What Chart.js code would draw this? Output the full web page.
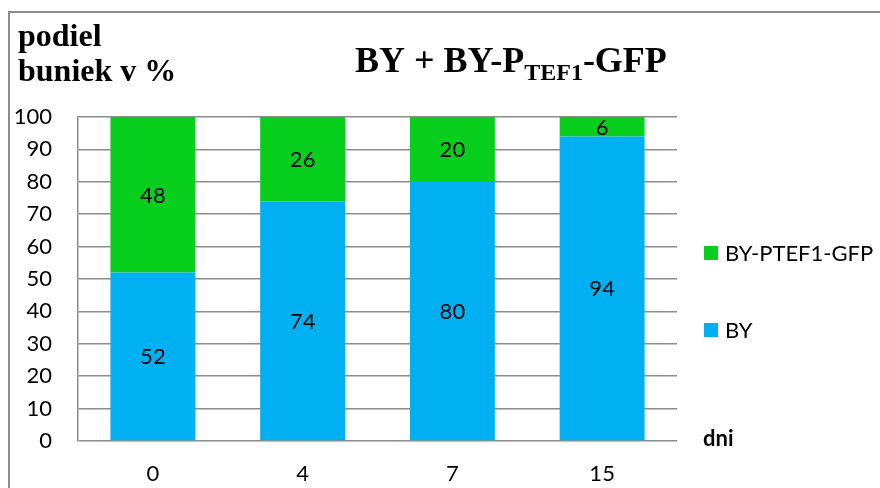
<!DOCTYPE html>
<html>
<head>
<meta charset="utf-8">
<script src="https://cdn.jsdelivr.net/npm/chart.js@4/dist/chart.umd.min.js"></script>
<style>
  html, body { margin: 0; padding: 0; background: #fff; }
  #wrap { width: 880px; height: 488px; position: relative; }
</style>
</head>
<body>
<div id="wrap"><canvas id="c" width="880" height="488"></canvas></div>
<script>
// Days of cultivation
const days = ['0', '4', '7', '15'];
// Share of cells (%) per strain
const byValues = [52, 74, 80, 94];
const gfpValues = [48, 26, 20, 6];
const seriesNames = ['BY', 'BY-PTEF1-GFP'];
const yTicks = [0, 10, 20, 30, 40, 50, 60, 70, 80, 90, 100];

const BLUE = '#00B0F0';
const GREEN = '#08CE1E';
const GRID = '#8C8C8C';
const SANS = 'Lato, "Open Sans", sans-serif';
const SERIF = '"Liberation Serif", "DejaVu Serif", serif';

// Frame around the whole chart
const framePlugin = {
  id: 'frame',
  beforeDraw(chart) {
    const ctx = chart.ctx;
    ctx.save();
    ctx.fillStyle = '#fff';
    ctx.fillRect(0, 0, chart.width, chart.height);
    ctx.strokeStyle = '#8C8C8C';
    ctx.lineWidth = 2;
    ctx.strokeRect(9, 12, chart.width + 20, chart.height + 20);
    ctx.restore();
  }
};

// Value labels centred in each stacked segment
const valueLabels = {
  id: 'valueLabels',
  afterDatasetsDraw(chart) {
    const ctx = chart.ctx;
    ctx.save();
    ctx.font = '22px ' + SANS;
    ctx.fillStyle = '#000';
    ctx.textAlign = 'center';
    ctx.textBaseline = 'middle';
    chart.data.datasets.forEach((ds, i) => {
      const meta = chart.getDatasetMeta(i);
      meta.data.forEach((bar, j) => {
        const p = bar.getProps(['x', 'y', 'base'], true);
        ctx.fillText(String(ds.data[j]), p.x, (p.y + p.base) / 2 + 1);
      });
    });
    ctx.restore();
  }
};

// Title with subscript, axis captions and the legend
const annotations = {
  id: 'annotations',
  afterDraw(chart) {
    const ctx = chart.ctx;
    ctx.save();
    ctx.fillStyle = '#000';
    ctx.textBaseline = 'alphabetic';
    ctx.textAlign = 'left';

    // Title: BY + BY-P(TEF1)-GFP
    const parts = [
      { t: 'BY + BY-P', size: 36, dy: 0 },
      { t: 'TEF1', size: 24, dy: 8 },
      { t: '-GFP', size: 36, dy: 0 }
    ];
    let x = 355;
    parts.forEach(p => {
      ctx.font = 'bold ' + p.size + 'px ' + SERIF;
      ctx.fillText(p.t, x, 72 + p.dy);
      x += ctx.measureText(p.t).width;
    });

    // Y-axis caption
    ctx.font = 'bold 32px ' + SERIF;
    ctx.fillText('podiel', 18, 46);
    ctx.fillText('buniek v %', 18, 81);

    // X-axis caption
    ctx.font = 'bold 22px ' + SANS;
    ctx.fillText('dni', 703, 446);

    // Legend (top series first)
    const items = [
      { label: chart.data.datasets[1].label, color: chart.data.datasets[1].backgroundColor, y: 253 },
      { label: chart.data.datasets[0].label, color: chart.data.datasets[0].backgroundColor, y: 330 }
    ];
    ctx.font = '22px ' + SANS;
    ctx.textBaseline = 'middle';
    items.forEach(it => {
      ctx.fillStyle = it.color;
      ctx.fillRect(704, it.y - 7, 14, 14);
      ctx.fillStyle = '#000';
      ctx.fillText(it.label, 725, it.y + 1);
    });
    ctx.restore();
  }
};

new Chart(document.getElementById('c'), {
  type: 'bar',
  data: {
    labels: days,
    datasets: [
      { label: seriesNames[0], data: byValues, backgroundColor: BLUE, borderWidth: 0 },
      { label: seriesNames[1], data: gfpValues, backgroundColor: GREEN, borderWidth: 0 }
    ]
  },
  options: {
    responsive: false,
    animation: false,
    devicePixelRatio: 1,
    layout: { padding: { left: 8, top: 117, right: 203, bottom: 0 } },
    datasets: { bar: { categoryPercentage: 1, barPercentage: 0.567 } },
    plugins: {
      legend: { display: false },
      title: { display: false },
      tooltip: { enabled: false }
    },
    scales: {
      x: {
        stacked: true,
        grid: { display: false, drawTicks: false },
        border: { display: false },
        ticks: { color: '#000', font: { family: SANS, size: 22 }, padding: 20 },
        afterFit(s) { s.height = 47; }
      },
      y: {
        stacked: true,
        min: 0,
        max: 100,
        afterBuildTicks(s) { s.ticks = yTicks.map(v => ({ value: v })); },
        grid: { color: GRID, lineWidth: 1.5, drawTicks: false },
        border: { display: true, color: GRID, width: 1.5 },
        ticks: { color: '#000', font: { family: SANS, size: 22 }, padding: 26 },
        afterFit(s) { s.width = 70; }
      }
    }
  },
  plugins: [framePlugin, valueLabels, annotations]
});
</script>
</body>
</html>
